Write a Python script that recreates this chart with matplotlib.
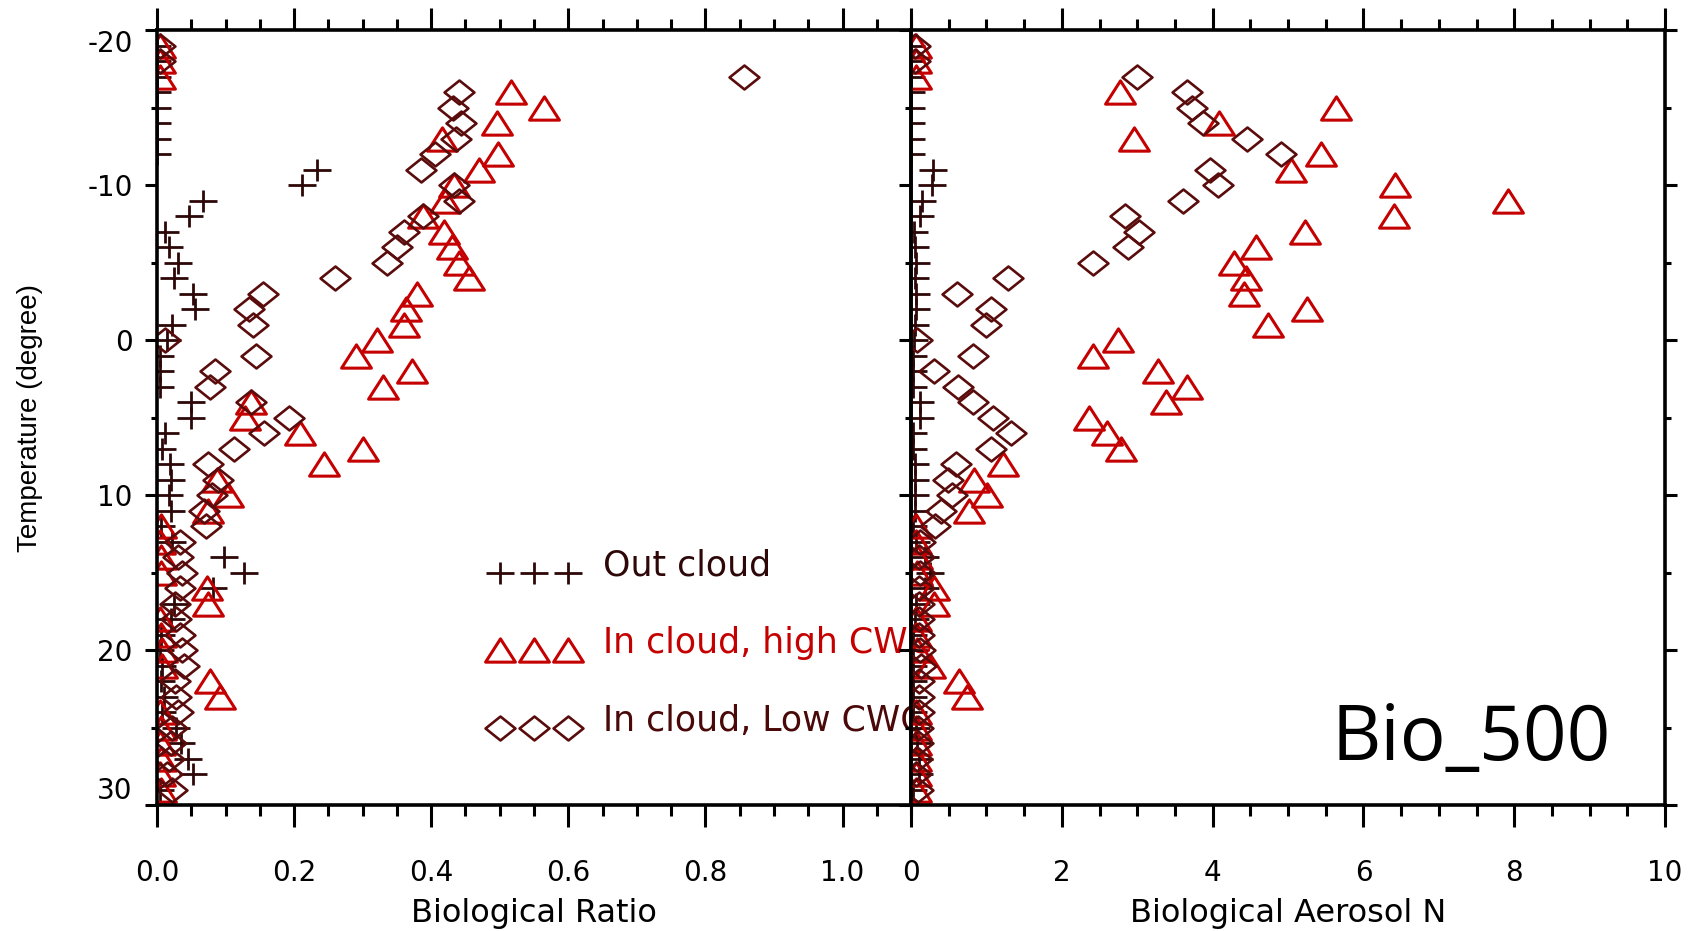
import matplotlib.pyplot as plt
import numpy as np
from matplotlib.path import Path

# temperature levels (degree), one value per level for each series
temps = list(range(-19, 30))

# biological ratio
out_ratio = [0, 0, 0, 0, 0, 0, 0, 0,
             0.234, 0.212, 0.067, 0.047, 0.011, 0.017, 0.031, 0.025, 0.053, 0.056, 0.022,
             0.015, 0.004, 0.004, 0.004, 0.05, 0.05, 0.011, 0.008, 0.019, 0.02,
             0.018, 0.02, 0.006, 0.022, 0.098, 0.127, 0.081, 0.025, 0.02, 0.006,
             0.004, 0.008, 0.006, 0.01, 0.008, 0.028, 0.035, 0.045, 0.052, 0.004]
high_ratio = [0.004, 0.004, 0.004, 0.517, 0.564, 0.496, 0.416, 0.497,
              0.469, 0.433, 0.42, 0.388, 0.419, 0.43, 0.441, 0.455, 0.38, 0.363, 0.36,
              0.321, 0.29, 0.372, 0.33, 0.137, 0.128, 0.209, 0.30, 0.243, 0.087,
              0.103, 0.074, 0.006, 0.005, 0.006, 0.006, 0.073, 0.075, 0.005, 0.006,
              0.007, 0.008, 0.077, 0.092, 0.005, 0.006, 0.005, 0.006, 0.005, 0.006]
low_ratio = [0.004, 0.004, 0.856, 0.44, 0.432, 0.444, 0.436, 0.405,
             0.385, 0.433, 0.44, 0.388, 0.36, 0.35, 0.335, 0.26, 0.154, 0.134, 0.14,
             0.012, 0.144, 0.084, 0.077, 0.137, 0.193, 0.156, 0.113, 0.075, 0.089,
             0.08, 0.068, 0.072, 0.033, 0.03, 0.036, 0.034, 0.026, 0.027, 0.033,
             0.037, 0.04, 0.026, 0.028, 0.03, 0.022, 0.02, 0.017, 0.014, 0.022]

# biological aerosol number
out_n = [0, 0, 0, 0, 0, 0, 0, 0,
         0.29, 0.28, 0.14, 0.12, 0.04, 0.05, 0.06, 0.05, 0.07, 0.07, 0.05,
         0.04, 0.02, 0.02, 0.02, 0.12, 0.12, 0.03, 0.02, 0.05, 0.05,
         0.05, 0.05, 0.02, 0.06, 0.19, 0.25, 0.19, 0.07, 0.05, 0.02,
         0.02, 0.03, 0.02, 0.03, 0.03, 0.07, 0.08, 0.1, 0.11, 0.02]
high_n = [0.06, 0.06, 0.06, 2.77, 5.63, 4.09, 2.95, 5.43,
          5.04, 6.42, 7.92, 6.40, 5.22, 4.57, 4.28, 4.44, 4.42, 5.25, 4.73,
          2.74, 2.41, 3.28, 3.66, 3.38, 2.36, 2.6, 2.78, 1.22, 0.84,
          1.01, 0.77, 0.06, 0.07, 0.08, 0.08, 0.31, 0.31, 0.07, 0.07,
          0.08, 0.25, 0.64, 0.74, 0.06, 0.06, 0.07, 0.06, 0.06, 0.07]
low_n = [0.05, 0.05, 2.99, 3.66, 3.73, 3.87, 4.46, 4.91,
         3.97, 4.07, 3.61, 2.84, 3.02, 2.88, 2.41, 1.29, 0.61, 1.06, 0.99,
         0.08, 0.82, 0.30, 0.62, 0.82, 1.09, 1.32, 1.06, 0.60, 0.49,
         0.54, 0.40, 0.32, 0.12, 0.11, 0.12, 0.11, 0.10, 0.10, 0.11,
         0.12, 0.13, 0.10, 0.10, 0.11, 0.09, 0.09, 0.08, 0.07, 0.09]

legend_labels = ['Out cloud', 'In cloud, high CWC', 'In cloud, Low CWC']
legend_x = [0.50, 0.55, 0.60]
legend_rows = [15, 20, 25]

c_out = '#2e0808'
c_high = '#c40000'
c_low = '#5a0c0c'
text_colors = ['#2e0808', '#c40000', '#4a0808']

# IDL-like symbols
cross = Path([(-1, 0), (1, 0), (0, -0.78), (0, 0.78)],
             [Path.MOVETO, Path.LINETO, Path.MOVETO, Path.LINETO])
tri = Path([(-1, -0.78), (1, -0.78), (0, 0.78), (-1, -0.78)], closed=True)
diam = Path([(-1, 0), (0, 0.8), (1, 0), (0, -0.8), (-1, 0)], closed=True)

styles = [dict(marker=cross, ms=20, mew=2.0, color=c_out),
          dict(marker=tri, ms=21.5, mew=2.2, color=c_high),
          dict(marker=diam, ms=21.5, mew=1.9, color=c_low)]

fig = plt.figure(figsize=(17.01, 9.31), dpi=100)
ax1 = fig.add_axes([0.0923, 0.1353, 0.4433, 0.8320])
ax2 = fig.add_axes([0.5356, 0.1353, 0.4433, 0.8320])
ax2.patch.set_visible(False)

for ax, series in [(ax1, [out_ratio, high_ratio, low_ratio]),
                   (ax2, [out_n, high_n, low_n])]:
    for vals, st in zip(series, styles):
        ax.plot(vals, temps, ls='none', mfc='none', mec=st['color'],
                marker=st['marker'], ms=st['ms'], mew=st['mew'])
    ax.set_ylim(30, -20)
    ax.set_yticks(np.arange(-20, 31, 10))
    ax.set_yticks(np.arange(-20, 31, 5), minor=True)
    for s in ax.spines.values():
        s.set_linewidth(2.6)
    ax.tick_params(axis='x', which='both', top=True, bottom=True, direction='out',
                   width=2.2, labelsize=20, pad=23)
    ax.tick_params(axis='x', which='major', length=16)
    ax.tick_params(axis='x', which='minor', length=8)
    ax.tick_params(axis='y', which='major', length=8.5, width=2.2, direction='out',
                   labelsize=20, pad=9)
    ax.tick_params(axis='y', which='minor', length=4.5, width=2.2, direction='out')

ax1.set_xlim(0, 1.1)
ax1.set_xticks([0.0, 0.2, 0.4, 0.6, 0.8, 1.0])
ax1.set_xticklabels(['0.0', '0.2', '0.4', '0.6', '0.8', '1.0'])
ax1.set_xticks(np.arange(0, 1.101, 0.05), minor=True)
ax1.tick_params(axis='y', which='both', left=True, right=False)
ax1.set_yticklabels(['-20', '-10', '0', '10', '20', '30'])
ylabs = ax1.get_yticklabels()
ylabs[0].set_va('top')
ylabs[-1].set_va('bottom')

ax2.set_xlim(0, 10)
ax2.set_xticks([0, 2, 4, 6, 8, 10])
ax2.set_xticks(np.arange(0, 10.01, 0.5), minor=True)
ax2.tick_params(axis='y', which='both', left=True, right=True, labelleft=False)

# legend drawn in data coordinates of the left panel
for row, lab, st, tc in zip(legend_rows, legend_labels, styles, text_colors):
    ax1.plot(legend_x, [row] * 3, ls='none', mfc='none', mec=st['color'],
             marker=st['marker'], ms=st['ms'], mew=st['mew'], clip_on=False)
    ax1.text(0.65, row + 0.2, lab, color=tc, fontsize=25, va='baseline',
             ha='left', clip_on=False)

fig.text(0.314, 0.0193, 'Biological Ratio', fontsize=23, ha='center', va='center')
fig.text(0.757, 0.0193, 'Biological Aerosol N', fontsize=23, ha='center', va='center')
fig.text(0.0176, 0.551, 'Temperature (degree)', fontsize=20, rotation=90,
         ha='center', va='center', family='Liberation Sans')

ax2.text(0.558, 0.058, 'Bio_500', transform=ax2.transAxes, fontsize=55,
         family='Open Sans', ha='left', va='baseline')

fig.savefig('out.png', dpi=100)
